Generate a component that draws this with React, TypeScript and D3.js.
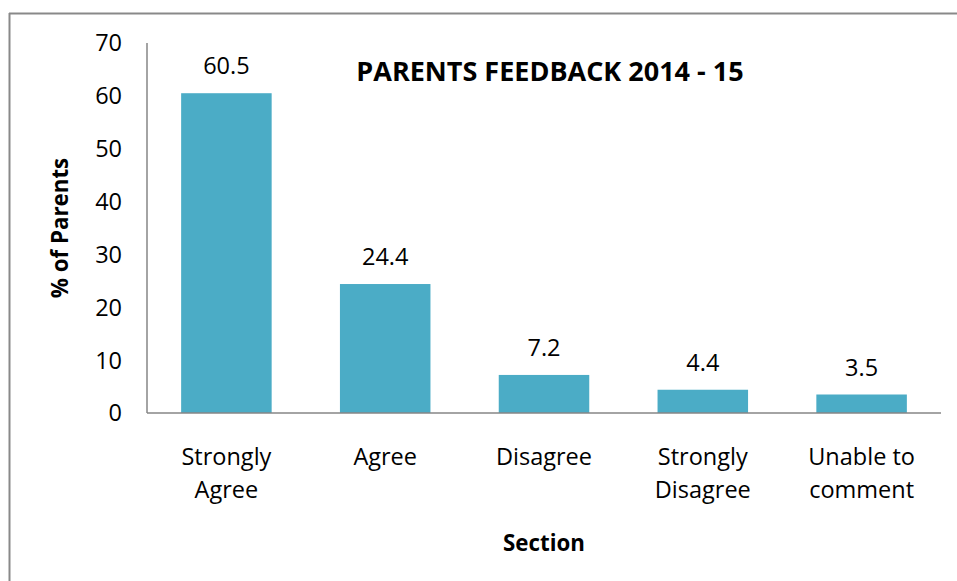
import React from "react";
import * as d3 from "d3";

const categories: string[][] = [
  ["Strongly", "Agree"],
  ["Agree"],
  ["Disagree"],
  ["Strongly", "Disagree"],
  ["Unable to", "comment"],
];
const values: number[] = [60.5, 24.4, 7.2, 4.4, 3.5];
const yTicks: number[] = [0, 10, 20, 30, 40, 50, 60, 70];
const title = "PARENTS FEEDBACK 2014 - 15";
const yTitle = "% of Parents";
const xTitle = "Section";

const W = 957;
const H = 581;
const FONT = "'Open Sans', 'Noto Sans', sans-serif";
const FS = 23.5;

export default function App() {
  const left = 147;
  const right = 941;
  const top = 43;
  const bottom = 413;
  const keys = categories.map((_, i) => String(i));
  const x = d3.scaleBand<string>().domain(keys).range([left, right]).paddingInner(0.43).paddingOuter(0.215);
  const y = d3.scaleLinear().domain([0, 70]).range([bottom, top]);
  const cx = (i: number) => (x(String(i)) as number) + x.bandwidth() / 2;

  return (
    <svg
      width={W}
      height={H}
      style={{ position: "absolute", left: 0, top: 0, background: "#fff" }}
      fontFamily={FONT}
    >
      <rect x={0} y={0} width={W} height={H} fill="#fff" />
      {/* outer chart border (top & left visible) */}
      <line x1={9} y1={13.5} x2={W} y2={13.5} stroke="#898989" strokeWidth={2} />
      <line x1={9.5} y1={13} x2={9.5} y2={H} stroke="#898989" strokeWidth={2} />

      {/* bars */}
      {values.map((v, i) => (
        <rect
          key={i}
          x={x(String(i))}
          y={y(v)}
          width={x.bandwidth()}
          height={y(0) - y(v)}
          fill="#4BACC6"
        />
      ))}

      {/* axes */}
      <line x1={left} y1={top} x2={left} y2={bottom} stroke="#868686" strokeWidth={1.5} />
      <line x1={left} y1={bottom} x2={right} y2={bottom} stroke="#868686" strokeWidth={1.5} />

      {/* y tick labels */}
      {yTicks.map((t) => (
        <text
          key={t}
          x={122}
          y={y(t)}
          dy="0.36em"
          textAnchor="end"
          fontSize={FS}
          fill="#000"
        >
          {t}
        </text>
      ))}

      {/* value labels */}
      {values.map((v, i) => (
        <text key={i} x={cx(i)} y={y(v) - 19} textAnchor="middle" fontSize={FS} fill="#000">
          {v.toFixed(1)}
        </text>
      ))}

      {/* category labels */}
      {categories.map((lines, i) => (
        <text key={i} x={cx(i)} y={465} textAnchor="middle" fontSize={FS} fill="#000">
          {lines.map((l, j) => (
            <tspan key={j} x={cx(i)} dy={j === 0 ? 0 : 33}>
              {l}
            </tspan>
          ))}
        </text>
      ))}

      {/* titles */}
      <text x={550} y={81} textAnchor="middle" fontSize={27} fontWeight="bold" fill="#000">
        {title}
      </text>
      <text
        transform={`translate(68, ${(top + bottom) / 2}) rotate(-90)`}
        textAnchor="middle"
        fontSize={22.3}
        fontWeight="bold"
        fill="#000"
      >
        {yTitle}
      </text>
      <text x={(left + right) / 2} y={551} textAnchor="middle" fontSize={22.3} fontWeight="bold" fill="#000">
        {xTitle}
      </text>
    </svg>
  );
}
